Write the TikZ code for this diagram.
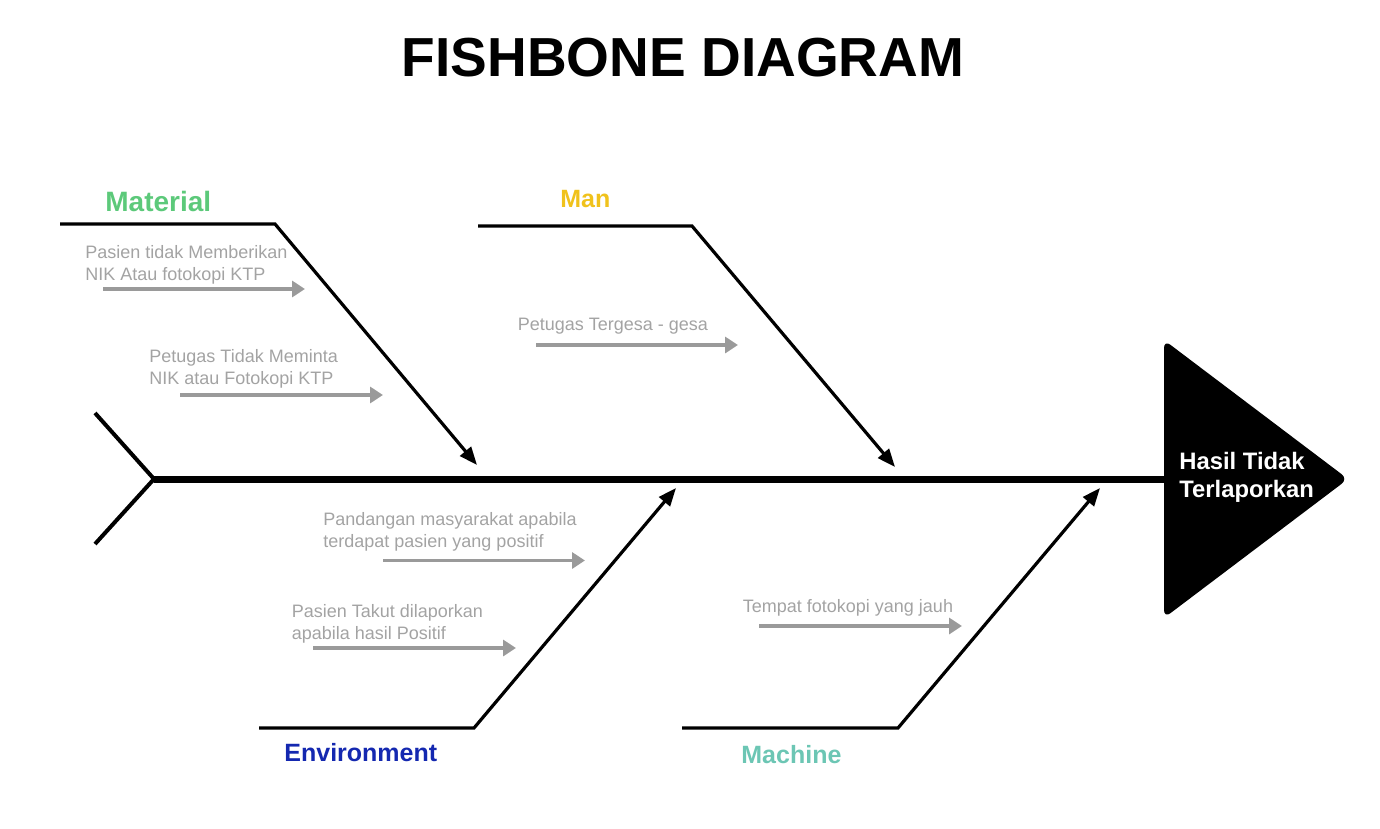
\documentclass[tikz,border=0pt]{standalone}
\usepackage{fontspec}
\setmainfont{Liberation Sans}
\usetikzlibrary{arrows.meta}
\definecolor{matgreen}{HTML}{5CC97A}
\definecolor{manyellow}{HTML}{F0C21C}
\definecolor{envblue}{HTML}{1428B0}
\definecolor{macteal}{HTML}{6CC6B4}
\definecolor{causegray}{HTML}{A3A3A3}
\definecolor{arrowgray}{HTML}{9A9A9A}
\tikzset{
  bone/.style={line width=1.6pt, -{Triangle[length=9pt,width=7pt]}},
  cause/.style={line width=1.8pt, arrowgray, -{Triangle[length=6.5pt,width=8pt]}},
  causetext/.style={anchor=base west, inner sep=0pt, align=left, text=causegray,
    font=\fontsize{9}{11}\selectfont},
  cat/.style={anchor=base west, inner sep=0pt, font=\bfseries\fontsize{12.5}{14}\selectfont},
}
\begin{document}
\begin{tikzpicture}[x=0.5pt,y=-0.5pt]
\useasboundingbox (0,0) rectangle (1380,829);

% title
\node[anchor=base, inner sep=0pt, font=\bfseries\fontsize{27.5}{30}\selectfont] (title) at (683,77) {FISHBONE DIAGRAM};

% head
\fill[rounded corners=4pt] (1164,340) -- (1348,479) -- (1164,618) -- cycle;
\coordinate (headL) at (1166,479);
\node[anchor=base west, inner sep=0pt, align=left, text=white,
  font=\bfseries\fontsize{11.9}{14}\selectfont] (effect) at (1179,497) {Hasil Tidak\\Terlaporkan};

% spine and tail
\coordinate (tailV) at (154,479);
\coordinate (tailA) at (95,413);
\coordinate (tailB) at (95,544);
\draw[line width=3.5pt] (tailV) -- (headL);
\draw[line width=2pt] (tailA) -- (tailV) -- (tailB);

% bones
\coordinate (matL) at (60,224);  \coordinate (matK) at (275,224);  \coordinate (matT) at (477,465);
\coordinate (manL) at (478,226); \coordinate (manK) at (692,226);  \coordinate (manT) at (895,467);
\coordinate (envL) at (259,728); \coordinate (envK) at (474,728);  \coordinate (envT) at (676,488);
\coordinate (macL) at (682,728); \coordinate (macK) at (898,728);  \coordinate (macT) at (1100,488);
\draw[bone] (matL) -- (matK) -- (matT);
\draw[bone] (manL) -- (manK) -- (manT);
\draw[bone] (envL) -- (envK) -- (envT);
\draw[bone] (macL) -- (macK) -- (macT);

% category labels
\node[cat, text=matgreen, font=\bfseries\fontsize{14}{16}\selectfont] (material) at (105,211.5) {Material};
\node[cat, text=manyellow] (man) at (560,207) {Man};
\node[cat, text=envblue] (environment) at (284,761.5) {Environment};
\node[cat, text=macteal] (machine) at (741,763) {Machine};

% causes (anchor: baseline of last line)
\node[causetext] (t1) at (85,280) {Pasien tidak Memberikan\\NIK Atau fotokopi KTP};
\node[causetext] (t2) at (149,384) {Petugas Tidak Meminta\\NIK atau Fotokopi KTP};
\node[causetext] (t3) at (517.5,330.5) {Petugas Tergesa - gesa};
\node[causetext] (t4) at (323,547.5) {Pandangan masyarakat apabila\\terdapat pasien yang positif};
\node[causetext] (t5) at (291.5,639.5) {Pasien Takut dilaporkan\\apabila hasil Positif};
\node[causetext] (t6) at (742.5,612.5) {Tempat fotokopi yang jauh};

\coordinate (c1s) at (103,289); \coordinate (c1e) at (305,289);
\coordinate (c2s) at (180,395); \coordinate (c2e) at (383,395);
\coordinate (c3s) at (536,345); \coordinate (c3e) at (738,345);
\coordinate (c4s) at (383,560.5); \coordinate (c4e) at (585,560.5);
\coordinate (c5s) at (313,648); \coordinate (c5e) at (516,648);
\coordinate (c6s) at (759,626); \coordinate (c6e) at (962,626);
\draw[cause] (c1s) -- (c1e);
\draw[cause] (c2s) -- (c2e);
\draw[cause] (c3s) -- (c3e);
\draw[cause] (c4s) -- (c4e);
\draw[cause] (c5s) -- (c5e);
\draw[cause] (c6s) -- (c6e);
\end{tikzpicture}
\end{document}
